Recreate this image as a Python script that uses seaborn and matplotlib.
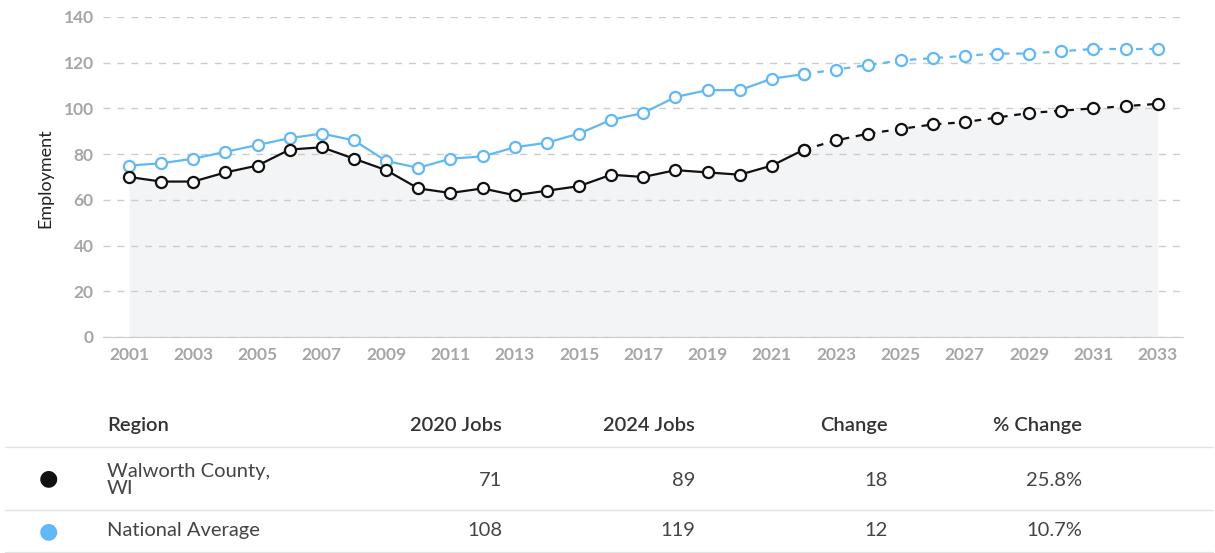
import pandas as pd
import matplotlib.pyplot as plt
import seaborn as sns
from matplotlib.lines import Line2D

# Employment series (jobs), 2001-2033, projections from 2022 on
years = list(range(2001, 2034))
walworth = [70, 68, 68, 72, 75, 82, 83, 78, 73, 65, 63, 65, 62, 64, 66, 71, 70,
            73, 72, 71, 75, 82, 86, 89, 91, 93, 94, 96, 98, 99, 100, 101, 102]
national = [75, 76, 78, 81, 84, 87, 89, 86, 77, 74, 78, 79, 83, 85, 89, 95, 98,
            105, 108, 108, 113, 115, 117, 119, 121, 122, 123, 124, 124, 125, 126, 126, 126]
last_actual = 2022

# Table
regions = ['Walworth County,\nWI', 'National Average']
jobs_2020 = ['71', '108']
jobs_2024 = ['89', '119']
change = ['18', '12']
pct_change = ['25.8%', '10.7%']
headers = ['Region', '2020 Jobs', '2024 Jobs', 'Change', '% Change']

black = '#111111'
blue = '#62b8f4'

sns.set_style('white')
plt.rcParams['font.family'] = ['Lato', 'DejaVu Sans']

df = pd.DataFrame({'Year': years, 'Walworth': walworth, 'National': national})
hist = df[df['Year'] <= last_actual]
proj = df[df['Year'] >= last_actual]

fig = plt.figure(figsize=(12.15, 5.53), dpi=100)
ax = fig.add_axes([0.085, 0.3906, 0.889, 0.5787])

ax.fill_between(df['Year'], 0, df['Walworth'], color='#f3f4f6', zorder=0, lw=0)

for col, color in [('National', blue), ('Walworth', black)]:
    for part, ls in [(hist, '-'), (proj, (0, (3, 3)))]:
        sns.lineplot(data=part, x='Year', y=col, ax=ax, color=color, lw=1.6,
                     linestyle=ls, marker='o', markersize=8, markerfacecolor='white',
                     markeredgecolor=color, markeredgewidth=1.6, zorder=3)

ax.set_xlim(2000.2, 2033.8)
ax.set_ylim(0, 140)
ax.set_yticks(range(0, 141, 20))
ax.set_xticks(range(2001, 2034, 2))
ax.grid(axis='y', color='#cccccc', linestyle=(0, (5, 5)), lw=1)
ax.set_axisbelow(True)
for s in ['top', 'right', 'left']:
    ax.spines[s].set_visible(False)
ax.spines['bottom'].set_color('#cccccc')
ax.tick_params(axis='both', length=0, labelsize=12.5, labelcolor='#a6a6a6', pad=7)
for lab in ax.get_xticklabels() + ax.get_yticklabels():
    lab.set_fontweight('bold')
ax.set_xlabel('')
ax.set_ylabel('')
fig.text(0.037, 1 - 178 / 553, 'Employment', rotation=90, ha='center', va='center',
         fontsize=13, color='#222222')

# Table below the chart
col_x = [0.0881, 0.4132, 0.572, 0.7309, 0.8905]
col_ha = ['left', 'right', 'right', 'right', 'right']
txt = '#444444'
for x, ha, h in zip(col_x, col_ha, headers):
    fig.text(x, 0.2297, h, ha=ha, va='center', fontsize=14.5, color='#333333',
             fontweight='semibold')

row_y = [0.132, 0.0398]
dot_y = [0.1356, 0.0398]
dot_colors = [black, blue]
for i in range(len(regions)):
    fig.text(0.0395, dot_y[i], '\u25cf', ha='center', va='center', fontsize=16,
             color=dot_colors[i], family='DejaVu Sans')
    fig.text(col_x[0], row_y[i], regions[i], ha='left', va='center', fontsize=14.5,
             color=txt, linespacing=1.05)
    for x, val in zip(col_x[1:], [jobs_2020[i], jobs_2024[i], change[i], pct_change[i]]):
        fig.text(x, row_y[i], val, ha='right', va='center', fontsize=14.5, color=txt)

for y in [0.1917, 0.0778, 0.0018]:
    fig.add_artist(Line2D([0.004, 0.998], [y, y], color='#e3e3e3', lw=1))

fig.savefig('out.png', dpi=100)
